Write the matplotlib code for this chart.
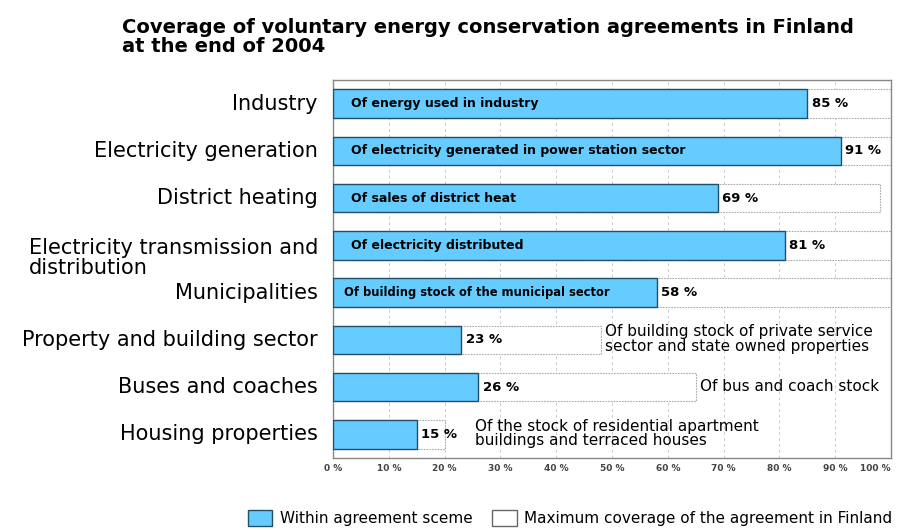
import matplotlib
matplotlib.use("Agg")
import matplotlib.pyplot as plt
from matplotlib.patches import Patch

plt.rcParams["font.family"] = ["DejaVu Sans"]

sectors = [
    "Industry",
    "Electricity generation",
    "District heating",
    "Electricity transmission and\ndistribution",
    "Municipalities",
    "Property and building sector",
    "Buses and coaches",
    "Housing properties",
]
within = [85, 91, 69, 81, 58, 23, 26, 15]
maximum = [100, 100, 98, 100, 100, 48, 65, 20]
descriptions = [
    "Of energy used in industry",
    "Of electricity generated in power station sector",
    "Of sales of district heat",
    "Of electricity distributed",
    "Of building stock of the municipal sector",
    "Of building stock of private service\nsector and state owned properties",
    "Of bus and coach stock",
    "Of the stock of residential apartment\nbuildings and terraced houses",
]
# descriptions written inside the blue bar for the first five rows
inside = [True, True, True, True, True, False, False, False]
ticks = list(range(0, 101, 10))
tick_labels = [f"{t} %" for t in ticks]

fig = plt.figure(figsize=(8.99, 5.30), dpi=100)
ax = fig.add_axes([333 / 899, 1 - 458 / 530, 558 / 899, 378 / 530])

rows = list(range(len(sectors)))
blue = "#66ccff"
ax.barh(rows, maximum, height=0.6, color="white", edgecolor="#aaaaaa",
        linewidth=0.8, linestyle=(0, (1.5, 1)), zorder=2)
ax.barh(rows, within, height=0.6, color=blue, edgecolor="#1f4f6a",
        linewidth=1.0, zorder=3)

for row, value, top, text, is_inside in zip(rows, within, maximum, descriptions, inside):
    ax.text(value + 0.8, row, f"{value} %", ha="left", va="center",
            fontsize=9.5, fontweight="bold", zorder=4)
    if is_inside:
        ax.text(3.2 if row != 4 else 2.0, row, text, ha="left", va="center",
                fontsize=9 if row != 4 else 8.3, fontweight="bold", zorder=4)
    else:
        x = top + 0.8 if row != 7 else 25.5
        ax.text(x, row - 0.02, text, ha="left", va="center",
                fontsize=11, linespacing=0.95, zorder=4)

ax.set_xlim(0, 100)
ax.set_ylim(len(sectors) - 0.5, -0.5)
ax.set_xticks(ticks)
ax.set_xticklabels(tick_labels, fontsize=6.5, fontweight="bold", color="#444444")
ax.get_xticklabels()[-1].set_ha("right")
ax.get_xticklabels()[-1].set_x(101.5)
ax.set_yticks(rows)
ax.set_yticklabels([])
ax.tick_params(axis="both", length=0, pad=4)
ax.grid(axis="x", color="#cccccc", linestyle=(0, (3, 3)), linewidth=0.7, zorder=0)
for spine in ax.spines.values():
    spine.set_color("#888888")
    spine.set_linewidth(1.0)

for row, name in zip(rows, sectors):
    offset = 0.27 if "\n" in name else 0
    ax.text(-2.7, row + offset, name, ha="right", va="center", multialignment="left",
            fontsize=15, linespacing=1.0)

fig.text(122 / 899, 1 - 18 / 530,
         "Coverage of voluntary energy conservation agreements in Finland\nat the end of 2004",
         ha="left", va="top", fontsize=14, fontweight="bold", linespacing=1.0)

handles = [
    Patch(facecolor=blue, edgecolor="#1f4f6a", label="Within agreement sceme"),
    Patch(facecolor="white", edgecolor="#666666", label="Maximum coverage of the agreement in Finland"),
]
fig.legend(handles=handles, loc="center", bbox_to_anchor=(570 / 899, 1 - 518 / 530),
           ncol=2, frameon=False, fontsize=11, handlelength=1.6, handleheight=1.3,
           columnspacing=1.3, handletextpad=0.5)

fig.savefig("out.png", dpi=100)
